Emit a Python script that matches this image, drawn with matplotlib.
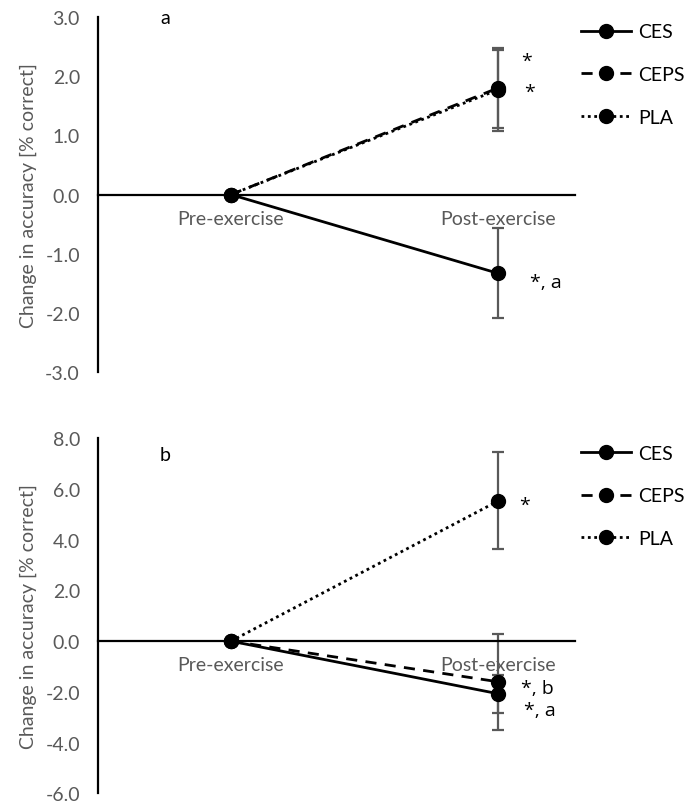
import matplotlib
matplotlib.use("Agg")
import matplotlib.pyplot as plt
from matplotlib.lines import Line2D

plt.rcParams['font.family'] = ['Lato', 'DejaVu Sans']

timepoints = ["Pre-exercise", "Post-exercise"]
groups = ["CES", "CEPS", "PLA"]
styles = {"CES": "-", "CEPS": (0, (4, 3)), "PLA": (0, (1, 1.3))}

# panel a
a_vals = {"CES": [0.0, -1.33], "CEPS": [0.0, 1.80], "PLA": [0.0, 1.77]}
a_err_up = {"CES": [0, 0.77], "CEPS": [0, 0.68], "PLA": [0, 0.68]}
a_err_lo = {"CES": [0, 0.76], "CEPS": [0, 0.67], "PLA": [0, 0.69]}
# panel b
b_vals = {"CES": [0.0, -2.07], "CEPS": [0.0, -1.60], "PLA": [0.0, 5.52]}
b_err_up = {"CES": [0, 0.75], "CEPS": [0, 1.90], "PLA": [0, 1.94]}
b_err_lo = {"CES": [0, 0.75], "CEPS": [0, 1.90], "PLA": [0, 1.89]}

a_notes = ["*", "*", "*, a"]
a_note_y = [2.31, 1.79, -1.47]
b_notes = ["*", "*, b", "*, a"]
b_note_y = [5.47, -1.84, -2.73]

fig = plt.figure(figsize=(6.85, 8.04), dpi=100)
gray = "#595959"
FS = 14

def panel(rect, vals, eu, el, ylim, yticks, letter, letter_y, notes, note_y,
          note_dx, legend_y):
    ax = fig.add_axes(rect)
    x = [1, 2]
    for g in groups:
        ax.errorbar([2], [vals[g][1]], yerr=[[el[g][1]], [eu[g][1]]], fmt='none',
                    ecolor=gray, elinewidth=1.6, capsize=4, capthick=1.6, zorder=2)
    for g in groups:
        ax.plot(x, vals[g], linestyle=styles[g], color='black', lw=2,
                marker='o', markersize=10, zorder=3)
    ax.set_xlim(0.502, 2.288)
    ax.set_ylim(*ylim)
    ax.set_yticks(yticks)
    ax.set_yticklabels([f"{t:.1f}" for t in yticks], color=gray, fontsize=FS)
    ax.tick_params(axis='y', length=0, pad=13)
    ax.tick_params(axis='x', length=0)
    ax.set_xticks([])
    for s in ['top', 'right']:
        ax.spines[s].set_visible(False)
    ax.spines['bottom'].set_position(('data', 0))
    ax.spines['left'].set_linewidth(1.6)
    ax.spines['bottom'].set_linewidth(1.6)
    for xi, t in zip(x, timepoints):
        ax.annotate(t, (xi, 0), xytext=(0, -11), textcoords='offset points',
                    ha='center', va='top', color=gray, fontsize=FS)
    ax.set_ylabel("Change in accuracy [% correct]", color=gray, fontsize=FS, labelpad=6)
    ax.text(0.141, letter_y, letter, transform=ax.transAxes, fontsize=FS,
            va='center', ha='center')
    for txt, yv, dx in zip(notes, note_y, note_dx):
        ax.annotate(txt, (2, yv), xytext=(dx, -2 if txt == "*" else 0),
                    textcoords='offset points', ha='left', va='center',
                    fontsize=FS, family=['Open Sans', 'DejaVu Sans'])
    handles = [Line2D([], [], color='black', linestyle=styles[g], lw=2,
                      marker='o', markersize=10) for g in groups]
    fig.legend(handles, groups, loc='upper left', bbox_to_anchor=(0.825, legend_y),
               frameon=False, fontsize=FS, handlelength=2.6, labelspacing=1.32,
               handletextpad=0.35, borderpad=0.3)
    return ax

panel([0.143, 0.536, 0.696, 0.4415], a_vals, a_err_up, a_err_lo, (-3, 3),
      [-3, -2, -1, 0, 1, 2, 3], "a", 1.0, a_notes, a_note_y, [17, 19, 23], 0.989)
panel([0.143, 0.012, 0.696, 0.4417], b_vals, b_err_up, b_err_lo, (-6, 8),
      [-6, -4, -2, 0, 2, 4, 6, 8], "b", 0.953, b_notes, b_note_y, [15, 17, 19], 0.465)

fig.savefig("out.png", dpi=100)
